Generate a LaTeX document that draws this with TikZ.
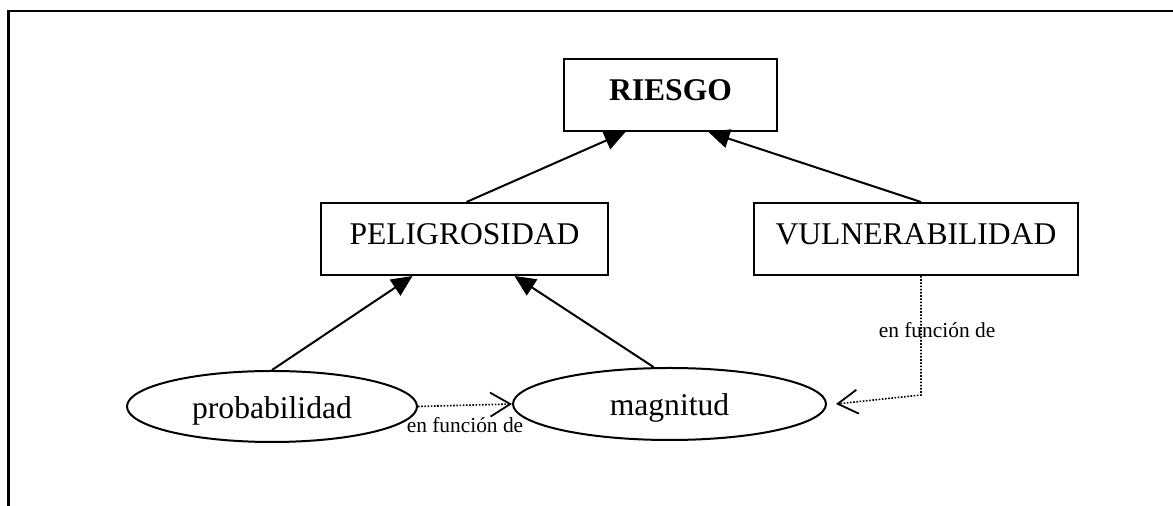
\documentclass[tikz,border=0pt]{standalone}
\usepackage{fontspec}
\setmainfont{Liberation Serif}
\usetikzlibrary{arrows.meta,shapes.geometric}
\begin{document}
\begin{tikzpicture}[x=0.5pt,y=-0.5pt,
  box/.style={draw,line width=1pt,rectangle,minimum height=36pt,inner sep=0pt,
    text height=11pt,text depth=5pt,font=\fontsize{15.8}{19}\selectfont},
  oval/.style={draw,line width=1pt,ellipse,inner sep=0pt,
    text height=12pt,text depth=0pt,font=\fontsize{15.8}{19}\selectfont},
  link/.style={line width=1pt,-{Triangle[length=10.5pt,width=9.5pt]}},
  relation/.style={line width=0.8pt,dash pattern=on 0.8pt off 0.8pt,
    -{Straight Barb[length=10pt,width=12pt,line width=0.9pt]}},
  note/.style={font=\fontsize{10.7}{13}\selectfont,inner sep=0pt}]
\useasboundingbox (0,0) rectangle (1173,506);
% page frame
\draw[line width=1.4pt] (8.5,506) -- (8.5,11) -- (1173,11);

% concepts
\node[box,minimum width=106.5pt,font=\fontsize{15.8}{19}\selectfont\bfseries] (riesgo) at (670.5,95) {RIESGO};
\node[box,minimum width=143.5pt] (peli) at (464.5,239) {PELIGROSIDAD};
\node[box,minimum width=162pt] (vuln) at (916,239) {VULNERABILIDAD};
\node[oval,minimum width=145pt,minimum height=35.5pt] (prob) at (272,406.5) {probabilidad};
\node[oval,minimum width=156.5pt,minimum height=36pt] (mag) at (669.5,404) {magnitud};

% contributions
\draw[link] ([xshift=1pt]peli.north) -- ([xshift=-22.5pt]riesgo.south);
\draw[link] ([xshift=2.5pt]vuln.north) -- ([xshift=19pt]riesgo.south);
\draw[link] (prob.north) -- ([xshift=-26pt]peli.south);
\draw[link] ([xshift=-8pt]mag.north) -- ([xshift=25pt]peli.south);

% dependencies
\draw[relation] (prob.east) -- (mag.west);
\node[note] (n1) at (465,425) {en función de};
\coordinate (bend) at (921,395);
\draw[relation] ([xshift=2.5pt]vuln.south) -- (bend) -- ([xshift=4.5pt]mag.east);
\node[note] (n2) at (937,330) {en función de};
\end{tikzpicture}
\end{document}
